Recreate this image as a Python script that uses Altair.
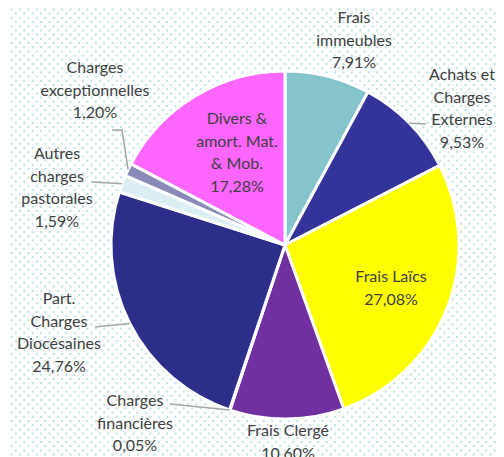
import math
import altair as alt
import pandas as pd

# ---- data ----
categories = [
    "Frais immeubles", "Achats et Charges Externes", "Frais Laïcs", "Frais Clergé",
    "Charges financières", "Part. Charges Diocésaines", "Autres charges pastorales",
    "Charges exceptionnelles", "Divers & amort. Mat. & Mob.",
]
label_text = [
    "Frais\nimmeubles", "Achats et\nCharges\nExternes", "Frais Laïcs", "Frais Clergé",
    "Charges\nfinancières", "Part.\nCharges\nDiocésaines", "Autres\ncharges\npastorales",
    "Charges\nexceptionnelles", "Divers &\namort. Mat.\n& Mob.",
]
shares = [7.91, 9.53, 27.08, 10.60, 0.05, 24.76, 1.59, 1.20, 17.28]
share_labels = ["7,91%", "9,53%", "27,08%", "10,60%", "0,05%", "24,76%", "1,59%", "1,20%", "17,28%"]

# ---- styling / layout ----
colors = ["#86C4CC", "#333399", "#FFFF00", "#7030A0", "#A0A0A0",
          "#2D2D8A", "#DAEEF3", "#8A8AB8", "#FF66FF"]
W, H = 488, 449
OFF = 8  # page margin; layout below is in page pixels
CX, CY, R = 285 - OFF, 245 - OFF, 174
# first-line centre of each label (page px)
label_pos = {
    0: (354, 18), 1: (462, 75), 2: (391, 277), 3: (288, 431), 4: (135, 401),
    5: (59, 299), 6: (57, 154), 7: (95, 68), 8: (237, 119),
}
# leader line points after the slice edge (page px)
leader_pts = {
    1: [(426, 124)],
    4: [(170, 404)],
    5: [(95, 327)],
    6: [(92, 182)],
    7: [(122, 130), (112, 130)],
}

df = pd.DataFrame({
    "cat": categories,
    "share": shares,
    "idx": list(range(len(categories))),
})

lab = pd.DataFrame({
    "text": [t + "\n" + p for t, p in zip(label_text, share_labels)],
    "lx": [label_pos[i][0] - OFF for i in range(len(categories))],
    "ly": [label_pos[i][1] - OFF for i in range(len(categories))],
})

# leader lines start on the slice edge at its mid angle
total = sum(shares)
cum = 0.0
mids = []
for s in shares:
    mids.append((cum + s / 2) / total * 2 * math.pi)
    cum += s
rows = []
for i, pts in leader_pts.items():
    a = mids[i]
    rows.append({"id": i, "seq": 0, "x": CX + R * math.sin(a), "y": CY - R * math.cos(a)})
    for k, (px, py) in enumerate(pts):
        rows.append({"id": i, "seq": k + 1, "x": px - OFF, "y": py - OFF})
lead = pd.DataFrame(rows)

# dotted background pattern
dots = []
j = 0
yy = 0.0
while yy < 457:
    xx = (4.2 if j % 2 else 0.0) + 3.3
    while xx < 504:
        if OFF <= xx <= W + OFF and OFF <= yy + 1 <= H + OFF:
            dots.append({"x": xx - OFF, "y": yy + 1 - OFF})
        xx += 8.4
    j += 1
    yy += 4.2
dots = pd.DataFrame(dots)

bg = alt.Chart(dots).mark_square(size=4, color="#A9D9DD", opacity=0.8).encode(
    x=alt.X("x:Q", scale=None, axis=None),
    y=alt.Y("y:Q", scale=None, axis=None),
)

pie = alt.Chart(df).mark_arc(radius=R, stroke="white", strokeWidth=3).encode(
    theta=alt.Theta("share:Q", stack=True),
    color=alt.Color("cat:N", scale=alt.Scale(domain=categories, range=colors), legend=None),
    order=alt.Order("idx:Q"),
    x=alt.value(CX),
    y=alt.value(CY),
)

lines = alt.Chart(lead).mark_line(color="#A6A6A6", strokeWidth=1.5).encode(
    x=alt.X("x:Q", scale=None, axis=None),
    y=alt.Y("y:Q", scale=None, axis=None),
    detail="id:N",
    order="seq:Q",
)

labels = alt.Chart(lab).mark_text(
    font="Lato", fontSize=16, lineHeight=22.5, lineBreak="\n",
    align="center", baseline="middle", color="#404040",
).encode(
    x=alt.X("lx:Q", scale=None, axis=None),
    y=alt.Y("ly:Q", scale=None, axis=None),
    text="text:N",
)

chart = alt.layer(bg, pie, lines, labels).properties(
    width=W, height=H, autosize=alt.AutoSizeParams(type="none"), padding=0,
    background="white",
).configure_view(stroke=None)

chart.save("out.html", embed_options={"renderer": "svg", "actions": False})
